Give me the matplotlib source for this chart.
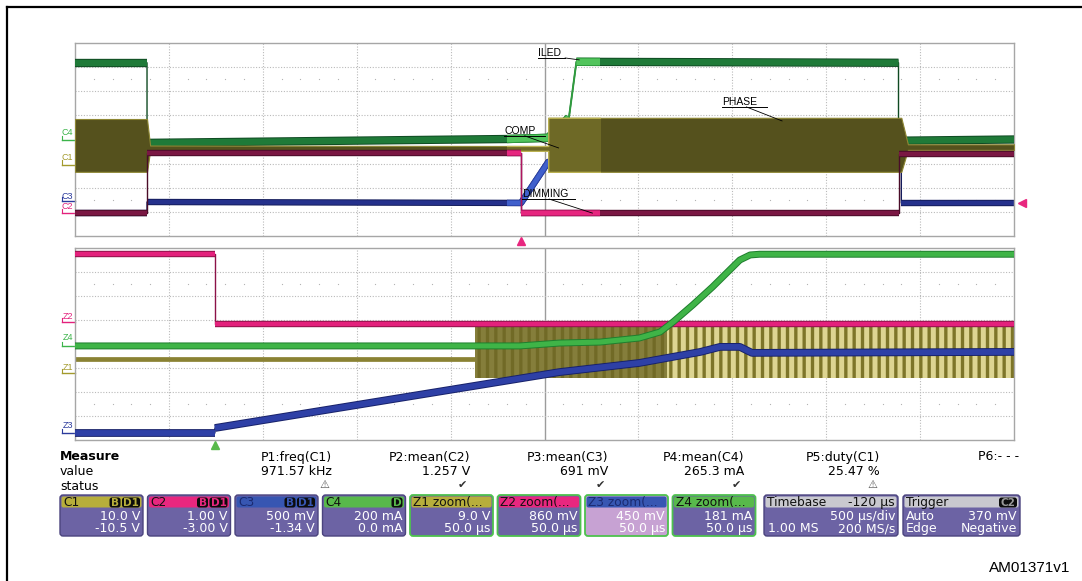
import numpy as np
import matplotlib.pyplot as plt
from matplotlib.patches import FancyBboxPatch, Rectangle

plt.rcParams['font.family'] = ['DejaVu Sans']
plt.rcParams['hatch.linewidth'] = 2.4

W, H = 1082, 581

# -----------------------
# Top panel (500 us/div) - values in screen divisions
# -----------------------
iled_x = [0, 0.767, 0.767, 4.60, 5.04, 5.26, 5.34, 8.77, 8.77, 10]
iled_y = [7.18, 7.18, 3.86, 4.02, 4.07, 4.90, 7.22, 7.18, 3.95, 4.00]

dim_x = [0, 0.767, 0.767, 4.75, 4.75, 8.77, 8.77, 10]
dim_y = [0.95, 0.95, 3.42, 3.42, 0.95, 0.95, 3.40, 3.40]

comp_x = [0, 0.767, 0.767, 4.75, 5.04, 5.50, 8.80, 8.80, 10]
comp_y = [0.95, 0.95, 1.41, 1.37, 3.07, 3.20, 3.20, 1.37, 1.37]

phase_x = [0, 0.767, 0.80, 5.04, 5.04, 8.80, 8.87, 10]
phase_hi = [4.85, 4.85, 3.75, 3.73, 4.90, 4.90, 3.80, 3.80]
phase_lo = [2.66, 2.66, 3.53, 3.53, 2.66, 2.66, 3.57, 3.57]

zoom_win = (4.60, 5.59)
trig_top = 4.75
trig_level = 1.37

# name, text x, text y, underline length, leader start x, leader end x, leader end y
top_labels = [
    ("ILED", 4.93, 7.59, 0.29, 5.22, 5.37, 7.30),
    ("COMP", 4.57, 4.36, 0.43, 4.79, 5.15, 3.65),
    ("PHASE", 6.89, 5.56, 0.48, 7.15, 7.53, 4.77),
    ("DIMMING", 4.76, 1.74, 0.56, 5.05, 5.51, 0.95),
]

# -----------------------
# Bottom panel (zoom, 50 us/div)
# -----------------------
z2_x = [0, 1.49, 1.49, 10]
z2_y = [7.75, 7.75, 4.83, 4.83]

z4_x = [0, 4.21, 4.74, 5.16, 5.59, 6.01, 6.23, 6.37, 6.58, 6.79, 6.94, 7.08, 7.19, 7.29, 10]
z4_y = [3.92, 3.92, 3.92, 4.04, 4.08, 4.25, 4.50, 4.92, 5.63, 6.38, 6.96, 7.50, 7.71, 7.74, 7.74]

z3_x = [0, 1.49, 1.49, 5.16, 6.01, 6.66, 6.87, 7.08, 7.21, 10]
z3_y = [0.29, 0.29, 0.50, 2.83, 3.21, 3.67, 3.88, 3.88, 3.63, 3.67]

z1_x = [0, 4.26]
z1_y = [3.38, 3.38]
z1_sw_x = [4.26, 10]
z1_sw_hi = [4.71, 4.71]
z1_sw_lo = [2.58, 2.58]
z1_dense_end = 6.3
trig_bot = 1.49

# channel tags on the left: text, text y, marker y, colour
top_tags = [("C4", 4.27, 3.98, '#3cb44a'), ("C1", 3.24, 2.95, '#a39a2c'),
            ("C3", 1.62, 1.45, '#2b3a9c'), ("C2", 1.24, 0.95, '#e3217c')]
bot_tags = [("Z2", 5.13, 4.92, '#e3217c'), ("Z4", 4.25, 3.92, '#3cb44a'),
            ("Z1", 3.04, 2.79, '#a39a2c'), ("Z3", 0.62, 0.29, '#2b3a9c')]

# -----------------------
# Measurements / channel boxes
# -----------------------
meas_names = ["P1:freq(C1)", "P2:mean(C2)", "P3:mean(C3)", "P4:mean(C4)", "P5:duty(C1)", "P6:- - -"]
meas_values = ["971.57 kHz", "1.257 V", "691 mV", "265.3 mA", "25.47 %", ""]
meas_status = ["warn", "ok", "ok", "ok", "warn", ""]
meas_right = [332, 470, 608, 744, 880, 1019]

box_titles = ["C1", "C2", "C3", "C4", "Z1 zoom(...", "Z2 zoom(...", "Z3 zoom(...", "Z4 zoom(..."]
box_row1 = ["10.0 V", "1.00 V", "500 mV", "200 mA", "9.0 V", "860 mV", "450 mV", "181 mA"]
box_row2 = ["-10.5 V", "-3.00 V", "-1.34 V", "0.0 mA", "50.0 µs", "50.0 µs", "50.0 µs", "50.0 µs"]
box_badges = [["B", "D1"], ["B", "D1"], ["B", "D1"], ["D"], [], [], [], []]

COL_C1, COL_C2, COL_C3, COL_C4 = '#b7ae3b', '#e8277f', '#3756b2', '#58b94b'
box_head = [COL_C1, COL_C2, COL_C3, COL_C4, COL_C1, COL_C2, COL_C3, COL_C4]
box_title_col = ['#111111', '#111111', '#1b2a70', '#111111', '#111111', '#111111', '#1b2a70', '#111111']
BODY = '#6c63a4'


def trace(ax, x, y, color, width, edge=None, thin=1.0, z=2):
    # thin line everywhere, thick band on the slow parts
    x = np.asarray(x, float)
    y = np.asarray(y, float)
    arts = ax.plot(x, y, color=edge or color, lw=thin, zorder=z)
    dx, dy = np.diff(x), np.diff(y)
    flat = (dx > 0) & (np.abs(dy) < 10 * dx)
    i = 0
    while i < len(flat):
        if not flat[i]:
            i += 1
            continue
        j = i
        while j < len(flat) and flat[j]:
            j += 1
        seg = slice(i, j + 1)
        if edge:
            arts += ax.plot(x[seg], y[seg], color=edge, lw=width + 1.4,
                            solid_capstyle='butt', zorder=z)
        arts += ax.plot(x[seg], y[seg], color=color, lw=width,
                        solid_capstyle='butt', zorder=z)
        i = j
    return arts


def scope_grid(ax):
    ax.set_xlim(0, 10)
    ax.set_ylim(0, 8)
    for v in range(1, 10):
        if v == 5:
            ax.axvline(v, color='#9c9c9c', lw=1.0, zorder=0.5)
        else:
            ax.axvline(v, color='#bababa', lw=0.8, ls=(0, (1, 1.5)), zorder=0.5)
    for h in range(1, 8):
        ax.axhline(h, color='#bababa', lw=0.8, ls=(0, (1, 1.5)), zorder=0.5)
    minor = np.arange(0.2, 10, 0.2)
    minor = minor[np.abs(minor - np.round(minor)) > 0.05]
    for yy in (1.5, 6.5):
        ax.plot(minor, np.full_like(minor, yy), ls='none', marker='s', ms=0.8,
                mew=0, color='#b4b4b4', zorder=0.5)
    ax.set_xticks([])
    ax.set_yticks([])
    for s in ax.spines.values():
        s.set_color('#a6a6a6')
        s.set_linewidth(1.0)


def tags(ax, items):
    for name, ty, my, col in items:
        ax.text(-0.02, ty, name, color=col, fontsize=6.5, ha='right', va='center',
                family='Liberation Sans', clip_on=False)
        ax.plot([-0.14, 0], [my, my], color=col, lw=1.0, clip_on=False)
        ax.plot([-0.14, -0.14], [my, my + 0.18], color=col, lw=0.8, clip_on=False)


fig = plt.figure(figsize=(W / 100, H / 100), dpi=100)

# pixel-space background axes for the frame and the status area
bg = fig.add_axes([0, 0, 1, 1])
bg.set_xlim(0, W)
bg.set_ylim(H, 0)
bg.axis('off')
bg.plot([7, 7], [H, 6.5], color='black', lw=1.6)
bg.plot([7, W], [6.5, 6.5], color='black', lw=1.6)

ax1 = fig.add_axes([75 / W, (H - 236) / H, 939 / W, 193 / H])
ax2 = fig.add_axes([75 / W, (H - 440) / H, 939 / W, 192 / H])
scope_grid(ax1)
scope_grid(ax2)

# -----------------------
# Top panel traces
# -----------------------
zrect = Rectangle((zoom_win[0], 0), zoom_win[1] - zoom_win[0], 8, transform=ax1.transData)

trace(ax1, comp_x, comp_y, '#25318c', 3.2, edge='#151d5c', z=2)
for a in trace(ax1, comp_x, comp_y, '#4060cc', 3.2, edge='#2c44a8', z=2.1):
    a.set_clip_path(zrect)

trace(ax1, iled_x, iled_y, '#1f7a38', 4.6, edge='#0f4a22', z=3)
for a in trace(ax1, iled_x, iled_y, '#52c45c', 4.6, edge='#2f9c3e', thin=1.4, z=3.1):
    a.set_clip_path(zrect)

ax1.fill_between(phase_x, phase_lo, phase_hi, facecolor='#55511d', edgecolor='#8e8734',
                 lw=0.8, zorder=4)
pb = ax1.fill_between(phase_x, phase_lo, phase_hi, facecolor='#6e6926', edgecolor='#bdb453',
                      lw=0.9, zorder=4.1)
pb.set_clip_path(zrect)

trace(ax1, dim_x, dim_y, '#7a1743', 3.2, edge='#4a0c28', z=5)
for a in trace(ax1, dim_x, dim_y, '#e6267f', 3.2, edge='#b01560', z=5.1):
    a.set_clip_path(zrect)

for name, tx, ty, ul, lx, ex, ey in top_labels:
    ax1.text(tx, ty, name, fontsize=7.5, family='Liberation Sans', ha='left', va='center', zorder=8)
    ax1.plot([tx, tx + ul], [ty - 0.21, ty - 0.21], color='black', lw=0.7, zorder=8)
    ax1.plot([lx, ex], [ty - 0.21, ey], color='black', lw=0.6, zorder=8)

ax1.plot([trig_top], [-0.2], marker='^', ms=6, color='#e8277f', clip_on=False, zorder=9)
ax1.plot([10.09], [trig_level], marker='<', ms=6, color='#e8277f', clip_on=False, zorder=9)
tags(ax1, top_tags)

# -----------------------
# Bottom (zoom) panel traces
# -----------------------
ax2.plot(z1_x, z1_y, color='#8a8233', lw=3.4, solid_capstyle='butt', zorder=2)
ax2.fill_between(z1_sw_x, z1_sw_lo, z1_sw_hi, facecolor='#ddd592', edgecolor='#7d7529',
                 hatch='||', lw=0, zorder=2)
dense = [x for x in z1_sw_x if x <= z1_dense_end] + [z1_dense_end]
ax2.fill_between(dense, z1_sw_lo[:len(dense)], z1_sw_hi[:len(dense)],
                 facecolor='#6f6826', alpha=0.8, lw=0, zorder=2.1)

trace(ax2, z2_x, z2_y, '#e3217c', 3.2, edge='#8c1248', z=3)
trace(ax2, z4_x, z4_y, '#3fb447', 3.6, edge='#1f7e2e', z=4)
trace(ax2, z3_x, z3_y, '#2e40a6', 4.2, edge='#18226a', z=5)

ax2.plot([trig_bot], [-0.2], marker='^', ms=6, color='#58b94b', clip_on=False, zorder=9)
tags(ax2, bot_tags)

# -----------------------
# Measurement table
# -----------------------
bg.text(60, 457, "Measure", fontsize=9, weight='bold', va='center')
bg.text(60, 471.5, "value", fontsize=9, va='center')
bg.text(60, 486, "status", fontsize=9, va='center')
for name, val, st, xr in zip(meas_names, meas_values, meas_status, meas_right):
    bg.text(xr, 457, name, fontsize=9, ha='right', va='center')
    bg.text(xr, 471.5, val, fontsize=9, ha='right', va='center')
    if st == "warn":
        bg.text(xr - 8, 485, "\u26a0", fontsize=8, ha='center', va='center', color='#505050')
    elif st == "ok":
        bg.text(xr - 8, 485, "\u2714", fontsize=8, ha='center', va='center', color='#303030')


def sbox(x, w, head, title, title_col, body=BODY, border='#4b447e', blw=1.0):
    y0, y1 = 495, 536
    bg.add_patch(FancyBboxPatch((x, y0), w, y1 - y0, boxstyle="round,pad=0,rounding_size=3",
                                facecolor=body, edgecolor=border, lw=blw))
    bg.add_patch(FancyBboxPatch((x + 1.5, y0 + 1.5), w - 3, 11, boxstyle="round,pad=0,rounding_size=2",
                                facecolor=head, edgecolor='none'))
    bg.text(x + 3, 502.5, title, fontsize=8.8, color=title_col, ha='left', va='center')


def badge(xr, txt, col):
    bw = 7 * len(txt) + 4
    bg.add_patch(FancyBboxPatch((xr - bw, 497.5), bw, 10, boxstyle="round,pad=0,rounding_size=2.5",
                                facecolor='#0c0c0c', edgecolor='none'))
    bg.text(xr - bw / 2, 502.8, txt, fontsize=7.5, weight='bold', color=col, ha='center', va='center')
    return xr - bw - 1.5


BOX_W = 83
for i, title in enumerate(box_titles):
    x = 60 + i * 87.5
    zoom_box = title.startswith("Z")
    body = '#c7a2d3' if title.startswith("Z3") else BODY
    border = '#4ec24e' if zoom_box else '#4b447e'
    sbox(x, BOX_W, box_head[i], title, box_title_col[i], body=body, border=border,
         blw=1.3 if zoom_box else 1.0)
    xr = x + BOX_W - 3
    for b in reversed(box_badges[i]):
        xr = badge(xr, b, box_head[i])
    bg.text(x + BOX_W - 3, 516.5, box_row1[i], fontsize=9, color='white', ha='right', va='center')
    bg.text(x + BOX_W - 3, 528.5, box_row2[i], fontsize=9, color='white', ha='right', va='center')

# timebase
sbox(764, 134, '#c9c9cf', "Timebase", '#111111')
bg.text(895, 502.5, "-120 µs", fontsize=9, ha='right', va='center', color='#111111')
bg.text(895, 516.5, "500 µs/div", fontsize=9, ha='right', va='center', color='white')
bg.text(768, 528.5, "1.00 MS", fontsize=9, ha='left', va='center', color='white')
bg.text(895, 528.5, "200 MS/s", fontsize=9, ha='right', va='center', color='white')

# trigger
sbox(903, 117, '#c9c9cf', "Trigger", '#111111')
badge(1017, "C2", '#9a9a9a')
bg.text(906, 516.5, "Auto", fontsize=9, ha='left', va='center', color='white')
bg.text(1017, 516.5, "370 mV", fontsize=9, ha='right', va='center', color='white')
bg.text(906, 528.5, "Edge", fontsize=9, ha='left', va='center', color='white')
bg.text(1017, 528.5, "Negative", fontsize=9, ha='right', va='center', color='white')

bg.text(1070, 568, "AM01371v1", fontsize=11, family='Liberation Sans', ha='right', va='center')

fig.savefig("out.png", dpi=100)
